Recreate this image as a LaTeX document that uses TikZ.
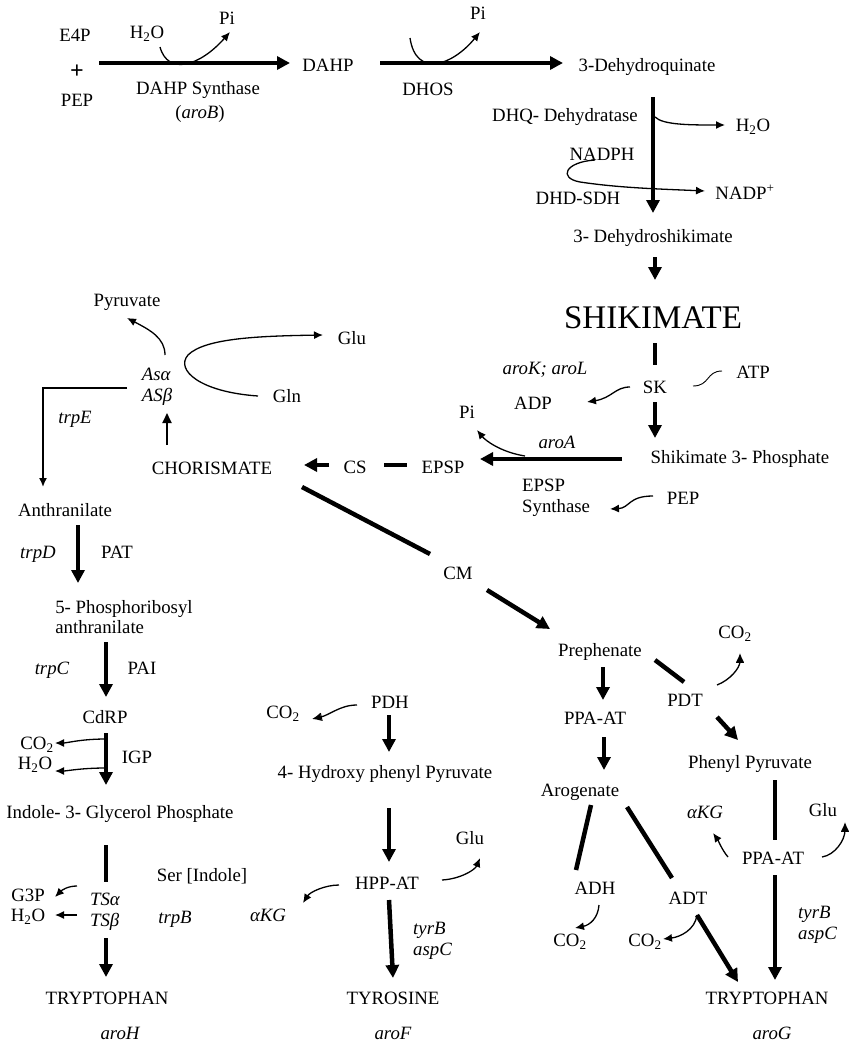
\documentclass[tikz,border=0pt]{standalone}
\usepackage{fontspec}
\setmainfont{Liberation Serif}
\usetikzlibrary{arrows.meta}

\begin{document}
\begin{tikzpicture}[
  x=1pt, y=-1pt,
  lbl/.style={
    font=\fontsize{18.8}{20.5}\selectfont,
    inner sep=0pt, text height=12.5pt, text depth=0pt
  },
  gene/.style={lbl, font=\fontsize{18.8}{20.5}\selectfont\itshape},
  stack/.style={
    inner sep=0pt, align=left,
    font=\fontsize{18.8}{20.5}\selectfont
  },
  gstack/.style={stack, font=\fontsize{18.8}{20.5}\selectfont\itshape},
  big/.style={
    inner sep=0pt, text height=21.8pt, text depth=0pt,
    font=\fontsize{33}{36}\selectfont
  },
  rxn/.style={-{Triangle[length=13pt,width=13pt]}, line width=4.5pt},
  link/.style={line width=4.5pt},
  side/.style={-{Latex[length=9pt,width=8pt]}, line width=1.3pt},
  sidebar/.style={
    -{Bar[width=8pt,line width=1pt]Latex[length=9pt,width=8pt]},
    line width=1.3pt
  },
  wire/.style={line width=0.9pt}
]
\useasboundingbox[fill=white] (0,0) rectangle (851,1044);

% ─── Top row: E4P + PEP to 3-dehydroquinate ─────────────────
\node[lbl] (e4p)   at (75,35)   {E4P};
\node[inner sep=0pt, font=\fontsize{24}{24}\selectfont\bfseries] (plus) at (77,72) {+};
\node[lbl] (pep0)  at (77,100)  {PEP};
\node[lbl] (h2oA)  at (147,32)  {H\textsubscript{2}O};
\node[lbl] (piA)   at (227,18)  {Pi};
\node[lbl] (dahps) at (198,88)  {DAHP Synthase};
\node[lbl] (arob)  at (200,112) {(\textit{aroB})};
\node[lbl] (dahp)  at (328,65)  {DAHP};
\node[lbl] (dhos)  at (428,89)  {DHOS};
\node[lbl] (piB)   at (478,13)  {Pi};
\node[lbl] (dhq)   at (647,65)  {3-Dehydroquinate};

\draw[rxn] ([shift={(24,28)}]e4p.center) -- ([shift={(-38,-2)}]dahp.center);
\draw[side] ([shift={(13,15)}]h2oA.center) .. controls +(8,29) and +(-30,34) .. ([shift={(3,14)}]piA.center);
\draw[rxn] ([shift={(52,-2)}]dahp.center) -- ([shift={(-84,-2)}]dhq.center);
\draw[side] ([shift={(-68,25)}]piB.center) .. controls +(6,40) and +(-28,34) .. ([shift={(2,19)}]piB.center);

% ─── 3-Dehydroquinate to shikimate ──────────────────────────
\node[lbl] (dhqd)   at (565,115) {DHQ- Dehydratase};
\node[lbl] (h2oB)   at (753,125) {H\textsubscript{2}O};
\node[lbl] (nadph)  at (602,154) {NADPH};
\node[lbl] (dhdsdh) at (578,198) {DHD-SDH};
\node[lbl] (nadp)   at (745,193) {NADP\textsuperscript{+}};
\node[lbl] (dhs)    at (653,236) {3- Dehydroshikimate};
\node[big] (shik)   at (653,318) {SHIKIMATE};

\draw[rxn] ([shift={(6,32)}]dhq.center) -- ([shift={(0,-23)}]dhs.center);
\draw[side] ([shift={(90,2)}]dhqd.center) .. controls +(8,8) and +(-35,0) .. ([shift={(-28,0)}]h2oB.center);
\draw[side] ([shift={(-7,6)}]nadph.center) .. controls +(-30,2) and +(-22,-4) .. ([shift={(2,-16)}]dhdsdh.center)
  .. controls +(40,6) and +(-45,-2) .. ([shift={(-40,-2)}]nadp.center);
\draw[rxn] ([shift={(2,21)}]dhs.center) -- ([shift={(2,-38)}]shik.center);

% ─── Shikimate to chorismate ────────────────────────────────
\node[gene] (arokl) at (545,368) {aroK; aroL};
\node[lbl] (sk)     at (655,387) {SK};
\node[lbl] (atp)    at (753,372) {ATP};
\node[lbl] (adp)    at (533,403) {ADP};
\node[gene] (aroa)  at (557,442) {aroA};
\node[lbl] (piC)    at (467,412) {Pi};
\node[lbl] (s3p)    at (740,457) {Shikimate 3- Phosphate};
\node[lbl] (epsp)   at (443,467) {EPSP};
\node[stack, anchor=west] (epsps) at (522,498) {EPSP\\Synthase};
\node[lbl] (pep1)   at (683,498) {PEP};
\node[lbl] (cs)     at (355,467) {CS};
\node[lbl] (chor)   at (212,468) {CHORISMATE};

\draw[link] ([shift={(2,25)}]shik.center) -- ([shift={(0,-22)}]sk.center);
\draw[wire] ([shift={(38,-1)}]sk.center) .. controls +(17,0) and +(-16,0) .. ([shift={(-31,-1)}]atp.center);
\draw[side] ([shift={(-25,0)}]sk.center) .. controls +(-15,0) and +(25,-4) .. ([shift={(54,-1)}]adp.center);
\draw[rxn] ([shift={(0,15)}]sk.center) -- ([shift={(-85,-19)}]s3p.center);
\draw[rxn] ([shift={(-118,2)}]s3p.center) -- ([shift={(37,-8)}]epsp.center);
\draw[side] ([shift={(-32,14)}]aroa.center) .. controls +(-25,-4) and +(8,10) .. ([shift={(10,18)}]piC.center);
\draw[side] ([shift={(-30,-2)}]pep1.center) .. controls +(-25,0) and +(20,-1) .. ([shift={(-73,11)}]pep1.center);
\draw[link] ([shift={(29,-2)}]cs.center) -- ([shift={(-36,-2)}]epsp.center);
\draw[rxn] ([shift={(-26,-2)}]cs.center) -- ([shift={(92,-3)}]chor.center);

% ─── Anthranilate synthase ──────────────────────────────────
\node[gstack] (asab) at (157,387) {Asα\\ASβ};
\node[lbl] (pyr)     at (127,300) {Pyruvate};
\node[lbl] (glu0)    at (352,338) {Glu};
\node[lbl] (gln)     at (287,396) {Gln};
\node[gene] (trpe)   at (75,417)  {trpE};

\draw[side, -{Triangle[length=10pt,width=9pt]}, line width=1.8pt]
  ([shift={(-45,-23)}]chor.center) -- ([shift={(10,26)}]asab.center);
\draw[side] ([shift={(8,-32)}]asab.center) .. controls +(0,-17) and +(23,12) .. ([shift={(0,18)}]pyr.center);
\draw[side] ([shift={(-29,0)}]gln.center) .. controls +(-58,-4) and +(-13,15) .. ([shift={(31,-32)}]asab.center)
  .. controls +(17,-17) and +(-63,1) .. ([shift={(-29,-3)}]glu0.center);

% ─── Tryptophan branch ──────────────────────────────────────
\node[lbl] (anth)   at (65,510)  {Anthranilate};
\node[gene] (trpd)  at (38,552)  {trpD};
\node[lbl] (pat)    at (117,552) {PAT};
\node[stack] (prba) at (124,617) {5- Phosphoribosyl\\anthranilate};
\node[gene] (trpc)  at (52,668)  {trpC};
\node[lbl] (pai)    at (142,668) {PAI};
\node[lbl] (cdrp)   at (105,717) {CdRP};
\node[lbl] (co2A)   at (37,743)  {CO\textsubscript{2}};
\node[lbl] (h2oC)   at (35,763)  {H\textsubscript{2}O};
\node[lbl] (igp)    at (137,757) {IGP};
\node[lbl] (indole) at (120,812) {Indole- 3- Glycerol Phosphate};
\node[lbl] (serind) at (202,875) {Ser [Indole]};
\node[lbl] (g3p)    at (28,895)  {G3P};
\node[lbl] (h2oD)   at (28,915)  {H\textsubscript{2}O};
\node[gstack] (tsab) at (105,912) {TSα\\TSβ};
\node[gene] (trpb)  at (175,917) {trpB};
\node[gene] (akgA)  at (268,915) {αKG};
\node[lbl] (trpL)   at (107,998) {TRYPTOPHAN};
\node[gene] (aroh)  at (120,1033) {aroH};

\draw[side, line width=1.6pt] ([shift={(-30,1)}]asab.center) -| ([shift={(-22,-23)}]anth.center);
\draw[rxn] ([shift={(13,15)}]anth.center) -- ([shift={(-46,-34)}]prba.center);
\draw[rxn] ([shift={(-18,25)}]prba.center) -- ([shift={(1,-20)}]cdrp.center);
\draw[rxn] ([shift={(1,16)}]cdrp.center) -- ([shift={(-14,-27)}]indole.center);
\draw[side] ([shift={(1,22)}]cdrp.center) .. controls +(-25,0) and +(12,0) .. ([shift={(18,0)}]co2A.center);
\draw[side] ([shift={(1,51)}]cdrp.center) .. controls +(-25,0) and +(12,0) .. ([shift={(20,8)}]h2oC.center);
\draw[link] ([shift={(-14,33)}]indole.center) -- ([shift={(1,-30)}]tsab.center);
\draw[side] ([shift={(-28,-26)}]tsab.center) .. controls +(-9,0) and +(7,-7) .. ([shift={(27,2)}]g3p.center);
\draw[side] ([shift={(-28,3)}]tsab.center) -- ([shift={(27,0)}]h2oD.center);
\draw[rxn] ([shift={(1,26)}]tsab.center) -- ([shift={(-1,-21)}]trpL.center);

% ─── Tyrosine branch ────────────────────────────────────────
\node[lbl] (pdh)    at (390,702) {PDH};
\node[lbl] (co2B)   at (283,712) {CO\textsubscript{2}};
\node[lbl] (hpp)    at (385,772) {4- Hydroxy phenyl Pyruvate};
\node[lbl] (glu1)   at (470,838) {Glu};
\node[lbl] (hppat)  at (387,883) {HPP-AT};
\node[gstack, anchor=west] (tyrbA) at (413,941) {tyrB\\aspC};
\node[lbl] (tyr)    at (393,998) {TYROSINE};
\node[gene] (arof)  at (393,1033) {aroF};

\draw[rxn] ([shift={(-1,13)}]pdh.center) -- ([shift={(4,-20)}]hpp.center);
\draw[sidebar] ([shift={(-33,3)}]pdh.center) .. controls +(-17,0) and +(18,-4) .. ([shift={(29,7)}]co2B.center);
\draw[rxn] ([shift={(4,36)}]hpp.center) -- ([shift={(2,-21)}]hppat.center);
\draw[side] ([shift={(55,-3)}]hppat.center) .. controls +(18,-1) and +(-5,12) .. ([shift={(10,20)}]glu1.center);
\draw[side] ([shift={(-48,2)}]hppat.center) .. controls +(-14,0) and +(7,-11) .. ([shift={(35,-12)}]akgA.center);
\draw[rxn] ([shift={(2,17)}]hppat.center) -- ([shift={(0,-20)}]tyr.center);

% ─── Prephenate branch ──────────────────────────────────────
\node[lbl] (cm)     at (458,573) {CM};
\node[lbl] (preph)  at (600,650) {Prephenate};
\node[lbl] (co2C)   at (735,632) {CO\textsubscript{2}};
\node[lbl] (pdt)    at (685,700) {PDT};
\node[lbl] (ppaatA) at (595,718) {PPA-AT};
\node[lbl] (phpyr)  at (750,762) {Phenyl Pyruvate};
\node[lbl] (arogen) at (580,790) {Arogenate};
\node[gene] (akgB)  at (705,812) {αKG};
\node[lbl] (glu2)   at (823,810) {Glu};
\node[lbl] (ppaatB) at (773,858) {PPA-AT};
\node[lbl] (adh)    at (595,888) {ADH};
\node[lbl] (adt)    at (688,898) {ADT};
\node[lbl] (co2D)   at (570,940) {CO\textsubscript{2}};
\node[lbl] (co2E)   at (645,940) {CO\textsubscript{2}};
\node[gstack, anchor=west] (tyrbB) at (798,925) {tyrB\\aspC};
\node[lbl] (trpR)   at (767,998) {TRYPTOPHAN};
\node[gene] (arogG) at (772,1033) {aroG};

\draw[link] ([shift={(90,19)}]chor.center) -- ([shift={(-28,-19)}]cm.center);
\draw[rxn] ([shift={(29,17)}]cm.center) -- ([shift={(-50,-21)}]preph.center);
\draw[rxn] ([shift={(3,17)}]preph.center) -- ([shift={(8,-18)}]ppaatA.center);
\draw[rxn] ([shift={(9,19)}]ppaatA.center) -- ([shift={(24,-20)}]arogen.center);
\draw[link] ([shift={(55,10)}]preph.center) -- ([shift={(-1,-18)}]pdt.center);
\draw[sidebar] ([shift={(32,-15)}]pdt.center) .. controls +(13,-5) and +(0,15) .. ([shift={(5,21)}]co2C.center);
\draw[rxn] ([shift={(32,17)}]pdt.center) -- ([shift={(-12,-22)}]phpyr.center);
\draw[link] ([shift={(11,15)}]arogen.center) -- ([shift={(-19,-18)}]adh.center);
\draw[side] ([shift={(4,17)}]adh.center) .. controls +(-1,13) and +(15,-3) .. ([shift={(5,-12)}]co2D.center);
\draw[link] ([shift={(47,17)}]arogen.center) -- ([shift={(-16,-20)}]adt.center);
\draw[rxn] ([shift={(9,17)}]adt.center) -- ([shift={(-29,-16)}]trpR.center);
\draw[side] ([shift={(9,17)}]adt.center) .. controls +(-2,15) and +(17,-2) .. ([shift={(18,-1)}]co2E.center);
\draw[link] ([shift={(25,18)}]phpyr.center) -- ([shift={(2,-18)}]ppaatB.center);
\draw[side] ([shift={(-45,-1)}]ppaatB.center) .. controls +(-6,-7) and +(5,7) .. ([shift={(8,21)}]akgB.center);
\draw[sidebar] ([shift={(49,-1)}]ppaatB.center) .. controls +(13,-2) and +(0,18) .. ([shift={(22,12)}]glu2.center);
\draw[rxn] ([shift={(2,17)}]ppaatB.center) -- ([shift={(8,-18)}]trpR.center);

\end{tikzpicture}
\end{document}
